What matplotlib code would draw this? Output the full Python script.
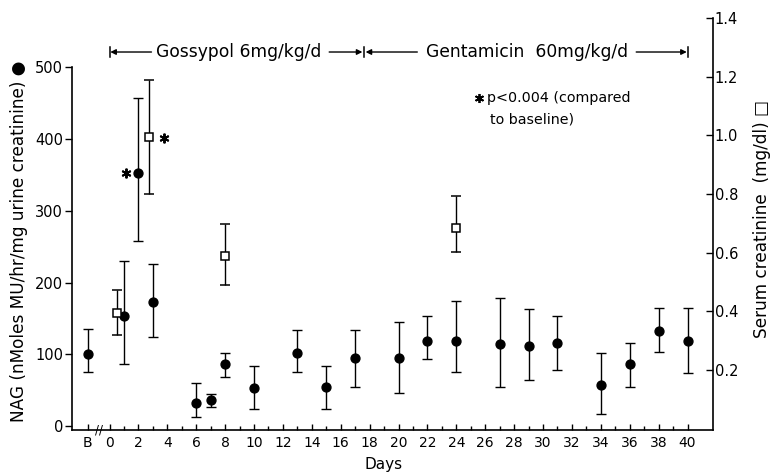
import matplotlib
matplotlib.use("Agg")
import matplotlib.pyplot as plt
from matplotlib.ticker import FixedLocator, NullFormatter

# ---------------- data ----------------
# NAG (left axis, filled circles)
nag_days = [-1.5, 1, 2, 3, 6, 7, 8, 10, 13, 15, 17, 20, 22, 24, 27, 29, 31, 34, 36, 38, 40]
nag_mean = [100, 153, 353, 173, 33, 36, 87, 53, 102, 54, 95, 95, 119, 118, 114, 112, 116, 57, 86, 132, 119]
nag_upper = [136, 230, 457, 226, 60, 45, 102, 84, 134, 84, 134, 145, 153, 174, 179, 163, 154, 102, 116, 164, 165]
nag_lower = [75, 86, 258, 124, 13, 27, 68, 24, 76, 24, 54, 46, 94, 75, 54, 65, 78, 17, 55, 104, 74]

# Serum creatinine (right axis, open squares)
cr_days = [0.5, 2.7, 8, 24]
cr_mean = [0.393, 0.993, 0.589, 0.683]
cr_upper = [0.474, 1.189, 0.696, 0.794]
cr_lower = [0.318, 0.800, 0.489, 0.603]

# significance stars (left-axis units)
star_days = [1.15, 3.8]
star_vals = [353, 401]

# axis ticks
x_tick_pos = [-1.5] + list(range(0, 41, 2))
x_tick_labels = ["B"] + [str(d) for d in range(0, 41, 2)]
x_minor_pos = list(range(1, 40, 2))
left_ticks = [0, 100, 200, 300, 400, 500]
right_ticks = [0.2, 0.4, 0.6, 0.8, 1.0, 1.2, 1.4]
right_tick_labels = ["0.2", "0.4", "0.6", "0.8", "1.0", "1.2", "1.4"]

# treatment periods
periods = ["Gossypol 6mg/kg/d", "Gentamicin  60mg/kg/d"]
period_bounds = [0, 17.6, 40]

# ---------------- figure ----------------
W, H = 773, 473
fig = plt.figure(figsize=(W / 100, H / 100), dpi=100)
ax = fig.add_axes([72 / W, 43 / H, (712.5 - 72) / W, 412 / H])
ax2 = ax.twinx()

ax.set_xlim(-2.6, 41.73)
ax.set_ylim(-5.15, 567.9)
ax2.set_ylim(-0.0048, 1.4)

lw = 1.0
# NAG error bars + circles
yerr_nag = [[m - l for m, l in zip(nag_mean, nag_lower)],
            [u - m for m, u in zip(nag_mean, nag_upper)]]
ax.errorbar(nag_days, nag_mean, yerr=yerr_nag, fmt="o", color="black",
            ms=6.4, ecolor="black", elinewidth=lw, capsize=3.3, capthick=lw,
            zorder=3, clip_on=False)

# creatinine error bars + squares
yerr_cr = [[m - l for m, l in zip(cr_mean, cr_lower)],
           [u - m for m, u in zip(cr_mean, cr_upper)]]
ax2.errorbar(cr_days, cr_mean, yerr=yerr_cr, fmt="s", mfc="white", mec="black",
             mew=1.1, ms=6, ecolor="black", elinewidth=lw, capsize=3.3,
             capthick=lw, zorder=3)

# significance stars
star_marker = (6, 2, 0)
ax.plot(star_days, star_vals, linestyle="none", marker=star_marker, ms=7,
        mew=1.4, color="black", zorder=4)

# ---------------- axes styling ----------------
ax.spines["top"].set_visible(False)
ax2.spines["top"].set_visible(False)
ax.spines["right"].set_visible(False)
ax2.spines["left"].set_visible(False)
ax2.spines["bottom"].set_visible(False)
for sp in [ax.spines["left"], ax.spines["bottom"], ax2.spines["right"]]:
    sp.set_linewidth(1.2)
ax.spines["left"].set_bounds(-5.15, 500)

ax.xaxis.set_major_locator(FixedLocator(x_tick_pos))
ax.set_xticklabels(x_tick_labels)
ax.xaxis.set_minor_locator(FixedLocator(x_minor_pos))
ax.xaxis.set_minor_formatter(NullFormatter())
ax.tick_params(axis="x", which="major", direction="in", length=4, width=1,
               labelsize=10, pad=4.5)
ax.tick_params(axis="x", which="minor", direction="in", length=3, width=1)

ax.set_yticks(left_ticks)
ax.tick_params(axis="y", direction="out", length=5, width=1, labelsize=10.5, pad=1.5)

ax2.set_yticks(right_ticks)
ax2.set_yticklabels(right_tick_labels)
ax2.tick_params(axis="y", direction="in", length=5, width=1, labelsize=10.5, pad=1.5)

# axis labels
fig.text(19 / W, 1 - 241.5 / H, "NAG (nMoles MU/hr/mg urine creatinine) \u25CF",
         rotation=90, ha="center", va="center", fontsize=12.2)
fig.text(762 / W, 1 - 218.5 / H, "Serum creatinine  (mg/dl) \u25A1",
         rotation=90, ha="center", va="center", fontsize=12.2)
fig.text(383.5 / W, 1 - 464 / H, "Days", ha="center", va="center", fontsize=11)

# axis break mark
ax.text(-0.76, -5.15, "//", ha="center", va="center", fontsize=8.5,
        clip_on=False)

# ---------------- treatment period annotation ----------------
ytxt = 520.6
bar_half = 7.5
for b in period_bounds:
    ax.plot([b, b], [ytxt - bar_half, ytxt + bar_half], color="black", lw=1.1,
            clip_on=False)

text_centers = [8.96, 28.86]
arrow_segs = [(2.9, 0.05), (15.2, 17.5), (21.3, 17.72), (36.45, 39.95)]
for t, c in zip(periods, text_centers):
    ax.text(c, ytxt, t, ha="center", va="center", fontsize=12.3)
for x0, x1 in arrow_segs:
    ax.annotate("", xy=(x1, ytxt), xytext=(x0, ytxt),
                arrowprops=dict(arrowstyle="-|>", lw=1.0, color="black",
                                mutation_scale=8, shrinkA=0, shrinkB=0),
                annotation_clip=False)

# significance note
ax.plot([25.54], [456.6], linestyle="none", marker=star_marker, ms=6.5,
        mew=1.3, color="black")
ax.text(26.12, 456.6, "p<0.004 (compared", ha="left", va="center", fontsize=10.3)
ax.text(26.33, 427.4, "to baseline)", ha="left", va="center", fontsize=10.3)

fig.savefig("out.png", dpi=100)
